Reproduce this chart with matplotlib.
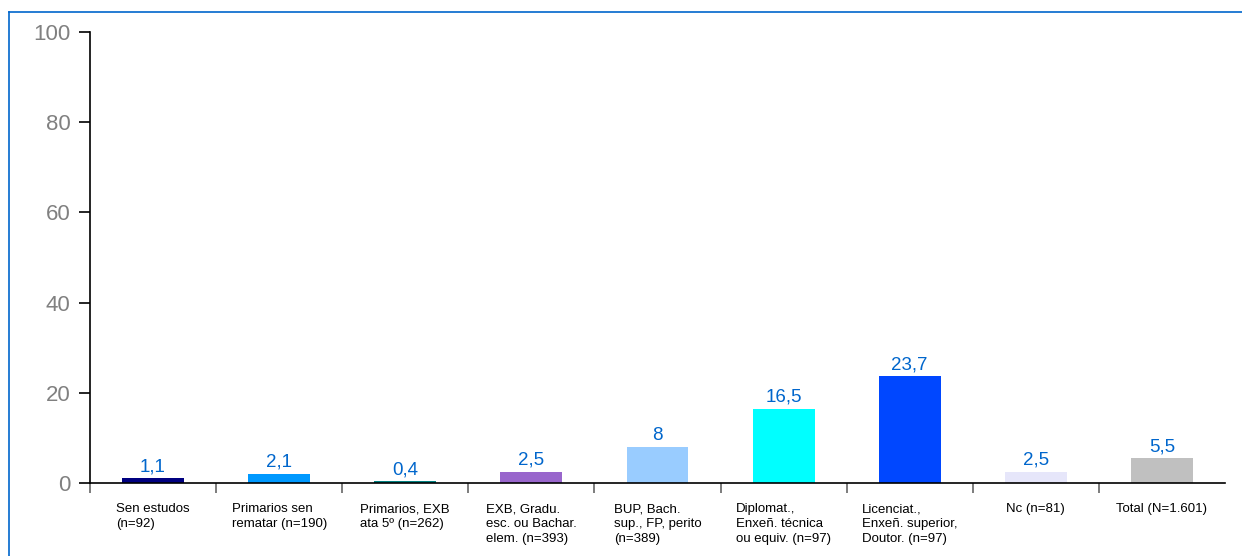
import matplotlib.pyplot as plt
from matplotlib.lines import Line2D

plt.rcParams['font.family'] = ['Liberation Sans', 'DejaVu Sans']

categories = [
    "Sen estudos\n(n=92)",
    "Primarios sen\nrematar (n=190)",
    "Primarios, EXB\nata 5º (n=262)",
    "EXB, Gradu.\nesc. ou Bachar.\nelem. (n=393)",
    "BUP, Bach.\nsup., FP, perito\n(n=389)",
    "Diplomat.,\nEnxeñ. técnica\nou equiv. (n=97)",
    "Licenciat.,\nEnxeñ. superior,\nDoutor. (n=97)",
    "Nc (n=81)",
    "Total (N=1.601)",
]
values = [1.1, 2.1, 0.4, 2.5, 8, 16.5, 23.7, 2.5, 5.5]
colors = ["#000080", "#0099FF", "#008080", "#9966CC", "#99CCFF",
          "#00FFFF", "#0047FF", "#E6E6FA", "#C0C0C0"]
yticks = [0, 20, 40, 60, 80, 100]

W, H = 1242, 556
fig = plt.figure(figsize=(W / 100, H / 100), dpi=100)
ax = fig.add_axes([90 / W, 1 - 483 / H, (1225 - 90) / W, (483 - 32) / H])

xs = [i + 0.5 for i in range(len(values))]
ax.bar(xs, values, width=0.49, color=colors, zorder=2)

for x, v in zip(xs, values):
    txt = ("%g" % v).replace(".", ",")
    ax.annotate(txt, (x, v), xytext=(0, 2), textcoords="offset points",
                ha="center", va="bottom", fontsize=13.5, color="#0066CC")

for x, lab in zip(xs, categories):
    ax.annotate(lab, (x, 0), xycoords=("data", "axes fraction"),
                xytext=(0, -14.5), textcoords="offset points",
                ha="center", va="top", multialignment="left",
                fontsize=9.5, linespacing=1.32, color="#000000")

ax.set_xlim(0, len(values))
ax.set_ylim(0, 100)
ax.set_yticks(yticks)
ax.set_yticklabels([str(t) for t in yticks], fontsize=16, color="#808080")
ax.tick_params(axis="y", direction="out", length=8, width=1.2, color="#000000", pad=6)
ax.set_xticks(range(len(values)))
ax.set_xticklabels([])
ax.tick_params(axis="x", direction="out", length=7, width=1.2, color="#666666")

for s in ["top", "right"]:
    ax.spines[s].set_visible(False)
for s in ["left", "bottom"]:
    ax.spines[s].set_linewidth(1.2)
    ax.spines[s].set_color("#000000")

# blue frame on left and top
fig.add_artist(Line2D([8.5 / W, 8.5 / W], [0, 1 - 12 / H], color="#0066CC", lw=1.2))
fig.add_artist(Line2D([8.5 / W, 1], [1 - 12 / H, 1 - 12 / H], color="#0066CC", lw=1.2))

fig.savefig("out.png", dpi=100)
